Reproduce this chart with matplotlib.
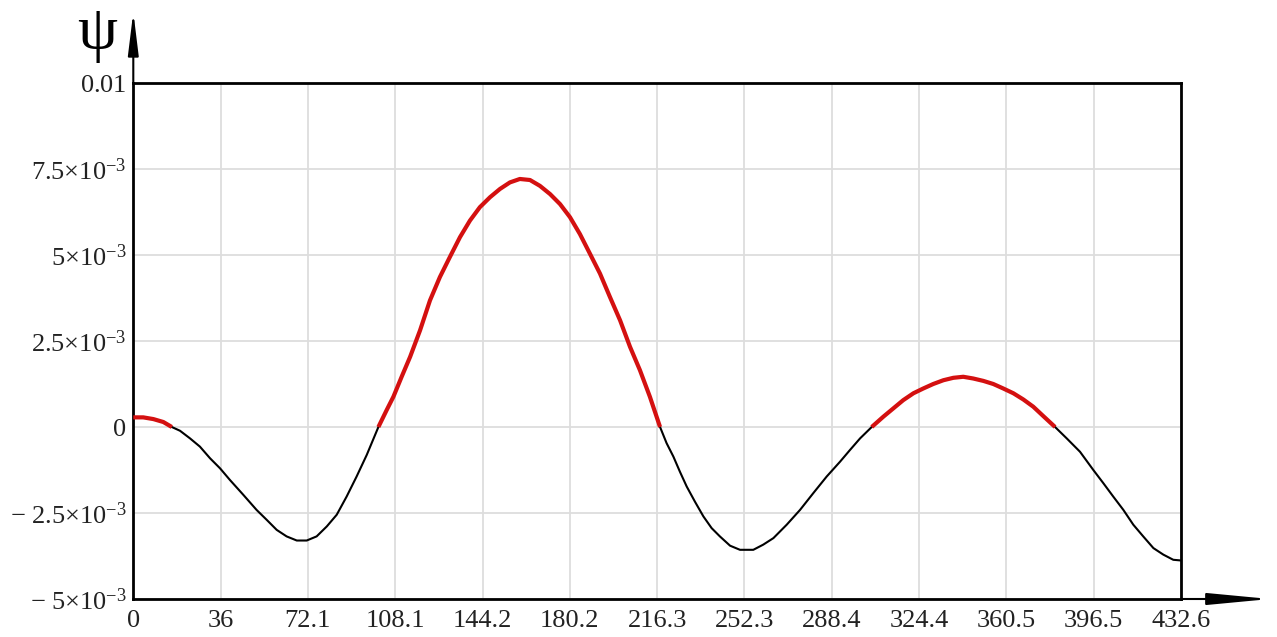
import numpy as np
import matplotlib
matplotlib.use("Agg")
import matplotlib.pyplot as plt
from matplotlib.patches import FancyArrowPatch

plt.rcParams['font.family'] = ['Liberation Serif', 'DejaVu Serif']
plt.rcParams['mathtext.fontset'] = 'custom'
plt.rcParams['mathtext.rm'] = 'Liberation Serif'
plt.rcParams['mathtext.it'] = 'Liberation Serif:italic'

# ---- data ----
x_vals = [0, 4.1, 8.3, 12.4, 15.9, 19.3, 23.4, 27.5, 31.7, 35.8, 39.9, 45.4, 50.9,
          55.1, 59.2, 63.3, 67.5, 71.6, 75.7, 79.9, 84.0, 88.1, 92.2, 96.4, 101.2,
          104.6, 107.4, 110.8, 114.3, 118.4, 122.5, 126.6, 130.7, 134.9, 139.0, 143.1,
          147.3, 151.4, 155.5, 159.6, 163.8, 167.9, 172.1, 176.2, 180.3, 184.4, 188.6,
          192.7, 196.8, 201.0, 205.1, 209.2, 213.3, 217.5, 220.2, 223.0, 225.7, 228.5,
          231.9, 235.4, 238.8, 242.2, 246.4, 250.5, 256.0, 260.1, 264.3, 269.8, 275.3,
          280.8, 286.3, 291.8, 295.9, 300.1, 304.9, 309.7, 313.8, 317.9, 322.1, 326.2,
          330.3, 334.5, 338.6, 342.7, 346.8, 351.0, 355.1, 359.2, 363.4, 367.5, 371.6,
          375.7, 380.6, 385.4, 390.9, 396.4, 400.5, 404.6, 408.8, 412.9, 417.0, 421.2,
          425.3, 429.4, 432.6]
psi_milli = [0.28, 0.28, 0.23, 0.145, 0.0, -0.11, -0.33, -0.57, -0.91, -1.20, -1.54,
             -1.97, -2.41, -2.70, -2.99, -3.18, -3.30, -3.30, -3.18, -2.89, -2.55, -2.02,
             -1.44, -0.81, 0.0, 0.49, 0.88, 1.46, 2.04, 2.81, 3.68, 4.36, 4.94, 5.52,
             6.00, 6.39, 6.68, 6.92, 7.11, 7.21, 7.18, 7.01, 6.77, 6.48, 6.10, 5.61, 5.03,
             4.46, 3.78, 3.10, 2.33, 1.65, 0.88, 0.0, -0.47, -0.86, -1.30, -1.73, -2.17,
             -2.60, -2.94, -3.18, -3.45, -3.57, -3.57, -3.42, -3.23, -2.84, -2.41, -1.92,
             -1.44, -1.01, -0.67, -0.33, 0.0, 0.30, 0.54, 0.78, 0.98, 1.12, 1.25, 1.36,
             1.43, 1.46, 1.41, 1.34, 1.25, 1.12, 0.98, 0.80, 0.59, 0.32, 0.0, -0.33,
             -0.72, -1.25, -1.63, -2.02, -2.41, -2.84, -3.18, -3.52, -3.71, -3.86, -3.88]

x_ticks = [0, 36.05, 72.1, 108.15, 144.2, 180.25, 216.3, 252.35, 288.4, 324.45,
           360.5, 396.55, 432.6]
x_tick_labels = ["0", "36", "72.1", "108.1", "144.2", "180.2", "216.3", "252.3",
                 "288.4", "324.4", "360.5", "396.5", "432.6"]
y_ticks = [0.01, 7.5e-3, 5e-3, 2.5e-3, 0.0, -2.5e-3, -5e-3]
y_tick_labels = [r"$\mathregular{0.01}$", r"$\mathregular{7.5{\times}10^{-3}}$",
                 r"$\mathregular{5{\times}10^{-3}}$", r"$\mathregular{2.5{\times}10^{-3}}$",
                 r"$\mathregular{0}$", r"$\mathregular{-\ 2.5{\times}10^{-3}}$",
                 r"$\mathregular{-\ 5{\times}10^{-3}}$"]

x = np.array(x_vals)
y = np.array(psi_milli) * 1e-3
y_pos = np.where(y >= 0, y, np.nan)

fig = plt.figure(figsize=(12.77, 6.37), dpi=100)
ax = fig.add_axes([133.3 / 1277, 1 - 599 / 637, (1181 - 133.3) / 1277, (599 - 83) / 637])

ax.plot(x, y, color='black', lw=1.5, zorder=3)
ax.plot(x, y_pos, color='#d41010', lw=3.0, zorder=4, solid_capstyle='butt')

ax.set_xlim(0, 432.6)
ax.set_ylim(-5e-3, 0.01)
ax.set_xticks(x_ticks)
ax.set_xticklabels(x_tick_labels)
ax.set_yticks(y_ticks)
ax.set_yticklabels(y_tick_labels)
ax.tick_params(axis='both', length=0, labelsize=19, colors='#222222')
ax.tick_params(axis='x', pad=8)
ax.tick_params(axis='y', pad=5)
ax.grid(True, color='#dddddd', lw=1.3, zorder=0)
ax.set_axisbelow(True)
for s in ax.spines.values():
    s.set_linewidth(2.0)
    s.set_color('black')

# axis arrows
arr_y = FancyArrowPatch((0, 1.0), (0, 1.0 + 71 / 516), transform=ax.transAxes,
                        arrowstyle='-|>,head_length=26,head_width=3.2',
                        mutation_scale=1, color='black', lw=1.5, clip_on=False,
                        shrinkA=0, shrinkB=0)
arr_x = FancyArrowPatch((1.0, 0), (1.0 + 89 / 1047.7, 0), transform=ax.transAxes,
                        arrowstyle='-|>,head_length=38,head_width=3.6',
                        mutation_scale=1, color='black', lw=1.5, clip_on=False,
                        shrinkA=0, shrinkB=0)
ax.add_patch(arr_y)
ax.add_patch(arr_x)

fig.text(97 / 1277, 1 - 34 / 637, "ψ", fontsize=46, ha='center', va='center')

fig.savefig("out.png", dpi=100)
